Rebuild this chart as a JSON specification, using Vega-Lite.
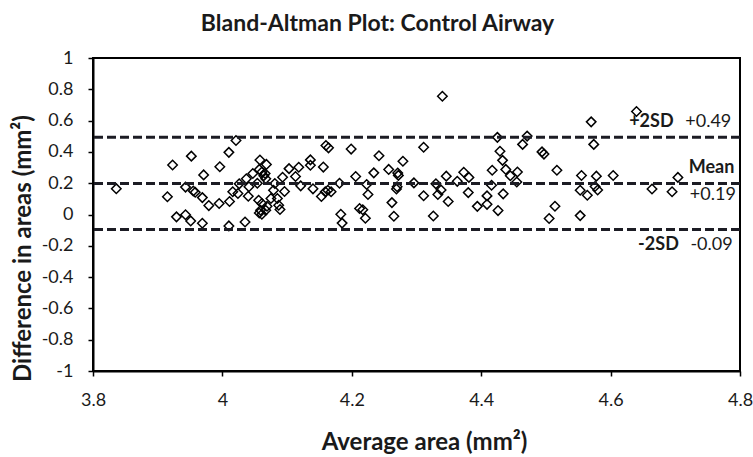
{
  "$schema": "https://vega.github.io/schema/vega-lite/v6.json",
  "autosize": "none",
  "width": 647,
  "height": 313,
  "padding": {"left": 93, "top": 58, "right": 13, "bottom": 86},
  "background": "white",
  "config": {
    "font": "Lato",
    "view": {"stroke": "#000", "strokeWidth": 2},
    "axis": {"grid": false, "domainColor": "#000", "domainWidth": 2, "tickColor": "#000", "tickWidth": 1.5, "tickSize": 5, "labelFont": "Lato", "labelFontSize": 18, "labelColor": "#1a1a1a", "labelOverlap": false, "titleFont": "Lato", "titleFontWeight": "bold", "titleColor": "#1a1a1a"},
    "axisY": {"labelOverlap": false},
    "axisQuantitative": {"labelOverlap": false}
  },
  "title": {"text": "Bland-Altman Plot: Control Airway", "font": "Lato", "fontSize": 23, "fontWeight": "bold", "color": "#1a1a1a", "anchor": "middle", "frame": "group", "dx": -39, "baseline": "middle", "offset": 2},
  "datasets": {
    "points": [
      {"avg": 3.836, "diff": 0.165}, {"avg": 3.915, "diff": 0.113}, {"avg": 3.923, "diff": 0.316}, {"avg": 3.929, "diff": -0.015},
      {"avg": 3.943, "diff": -0.002}, {"avg": 3.943, "diff": 0.175}, {"avg": 3.951, "diff": -0.041}, {"avg": 3.952, "diff": 0.373},
      {"avg": 3.955, "diff": 0.150}, {"avg": 3.958, "diff": 0.142}, {"avg": 3.969, "diff": 0.108}, {"avg": 3.971, "diff": 0.253},
      {"avg": 3.969, "diff": -0.056}, {"avg": 3.979, "diff": 0.057}, {"avg": 3.995, "diff": 0.070}, {"avg": 3.996, "diff": 0.305},
      {"avg": 4.010, "diff": -0.073}, {"avg": 4.010, "diff": 0.397}, {"avg": 4.021, "diff": 0.473}, {"avg": 4.011, "diff": 0.083},
      {"avg": 4.016, "diff": 0.145}, {"avg": 4.026, "diff": 0.196}, {"avg": 4.024, "diff": 0.134}, {"avg": 4.035, "diff": -0.048},
      {"avg": 4.040, "diff": 0.117}, {"avg": 4.037, "diff": 0.228}, {"avg": 4.041, "diff": 0.177},
      {"avg": 4.047, "diff": 0.262}, {"avg": 4.054, "diff": 0.200}, {"avg": 4.057, "diff": 0.288}, {"avg": 4.058, "diff": 0.348},
      {"avg": 4.061, "diff": 0.272}, {"avg": 4.066, "diff": 0.262}, {"avg": 4.068, "diff": 0.320}, {"avg": 4.064, "diff": 0.248},
      {"avg": 4.067, "diff": 0.228}, {"avg": 4.056, "diff": 0.091}, {"avg": 4.061, "diff": 0.070}, {"avg": 4.059, "diff": 0.027},
      {"avg": 4.061, "diff": 0.002}, {"avg": 4.067, "diff": 0.027}, {"avg": 4.069, "diff": 0.053}, {"avg": 4.075, "diff": 0.102},
      {"avg": 4.057, "diff": 0.010}, {"avg": 4.085, "diff": 0.102}, {"avg": 4.087, "diff": 0.059}, {"avg": 4.089, "diff": 0.032},
      {"avg": 4.081, "diff": 0.198}, {"avg": 4.079, "diff": 0.155}, {"avg": 4.093, "diff": 0.238}, {"avg": 4.096, "diff": 0.147},
      {"avg": 4.103, "diff": 0.293}, {"avg": 4.113, "diff": 0.243}, {"avg": 4.118, "diff": 0.302}, {"avg": 4.121, "diff": 0.183},
      {"avg": 4.136, "diff": 0.349}, {"avg": 4.136, "diff": 0.315}, {"avg": 4.140, "diff": 0.164}, {"avg": 4.153, "diff": 0.115},
      {"avg": 4.156, "diff": 0.303}, {"avg": 4.160, "diff": 0.441}, {"avg": 4.164, "diff": 0.426}, {"avg": 4.159, "diff": 0.145},
      {"avg": 4.163, "diff": 0.155}, {"avg": 4.168, "diff": 0.145}, {"avg": 4.181, "diff": 0.200}, {"avg": 4.183, "diff": 0.002},
      {"avg": 4.185, "diff": -0.055}, {"avg": 4.199, "diff": 0.418}, {"avg": 4.206, "diff": 0.243}, {"avg": 4.212, "diff": 0.038},
      {"avg": 4.217, "diff": 0.030}, {"avg": 4.221, "diff": -0.024}, {"avg": 4.223, "diff": 0.192}, {"avg": 4.225, "diff": 0.128},
      {"avg": 4.234, "diff": 0.266}, {"avg": 4.242, "diff": 0.375},
      {"avg": 4.257, "diff": 0.288}, {"avg": 4.271, "diff": 0.265}, {"avg": 4.272, "diff": 0.250}, {"avg": 4.279, "diff": 0.340},
      {"avg": 4.270, "diff": 0.177}, {"avg": 4.269, "diff": 0.163}, {"avg": 4.262, "diff": 0.076}, {"avg": 4.265, "diff": -0.011},
      {"avg": 4.296, "diff": 0.202}, {"avg": 4.311, "diff": 0.430}, {"avg": 4.311, "diff": 0.120}, {"avg": 4.326, "diff": -0.010},
      {"avg": 4.330, "diff": 0.196}, {"avg": 4.338, "diff": 0.157}, {"avg": 4.333, "diff": 0.128}, {"avg": 4.340, "diff": 0.756},
      {"avg": 4.346, "diff": 0.245}, {"avg": 4.349, "diff": 0.083}, {"avg": 4.363, "diff": 0.212}, {"avg": 4.373, "diff": 0.270},
      {"avg": 4.381, "diff": 0.237}, {"avg": 4.380, "diff": 0.140}, {"avg": 4.394, "diff": 0.052}, {"avg": 4.409, "diff": 0.065},
      {"avg": 4.409, "diff": 0.119}, {"avg": 4.417, "diff": 0.283}, {"avg": 4.416, "diff": 0.187}, {"avg": 4.425, "diff": 0.493},
      {"avg": 4.429, "diff": 0.404}, {"avg": 4.426, "diff": 0.025}, {"avg": 4.433, "diff": 0.346}, {"avg": 4.434, "diff": 0.132},
      {"avg": 4.438, "diff": 0.288}, {"avg": 4.445, "diff": 0.248}, {"avg": 4.456, "diff": 0.272}, {"avg": 4.455, "diff": 0.208},
      {"avg": 4.464, "diff": 0.448}, {"avg": 4.471, "diff": 0.501}, {"avg": 4.494, "diff": 0.400}, {"avg": 4.497, "diff": 0.386},
      {"avg": 4.505, "diff": -0.026}, {"avg": 4.514, "diff": 0.053}, {"avg": 4.517, "diff": 0.283}, {"avg": 4.553, "diff": -0.007},
      {"avg": 4.553, "diff": 0.155}, {"avg": 4.555, "diff": 0.249}, {"avg": 4.564, "diff": 0.123}, {"avg": 4.570, "diff": 0.592},
      {"avg": 4.574, "diff": 0.448}, {"avg": 4.576, "diff": 0.179}, {"avg": 4.580, "diff": 0.157}, {"avg": 4.578, "diff": 0.245},
      {"avg": 4.604, "diff": 0.249}, {"avg": 4.640, "diff": 0.658}, {"avg": 4.664, "diff": 0.163}, {"avg": 4.695, "diff": 0.145},
      {"avg": 4.704, "diff": 0.237}
    ],
    "lines": [
      {"level": "+2SD", "value": 0.493},
      {"level": "Mean", "value": 0.198},
      {"level": "-2SD", "value": -0.096}
    ],
    "boldLabels": [
      {"text": "+2SD", "avg": 4.663, "diff": 0.592},
      {"text": "Mean", "avg": 4.756, "diff": 0.294},
      {"text": "-2SD", "avg": 4.674, "diff": -0.196}
    ],
    "valueLabels": [
      {"text": "+0.49", "avg": 4.751, "diff": 0.592},
      {"text": "+0.19", "avg": 4.758, "diff": 0.123},
      {"text": "-0.09", "avg": 4.756, "diff": -0.196}
    ]
  },
  "layer": [
    {
      "data": {"name": "points"},
      "mark": {"type": "point", "shape": "diamond", "filled": false, "stroke": "#000", "strokeWidth": 1.5, "size": 90, "opacity": 1},
      "encoding": {
        "x": {"field": "avg", "type": "quantitative", "scale": {"domain": [3.8, 4.8], "nice": false, "zero": false},
          "axis": {"values": [3.8, 4, 4.2, 4.4, 4.6, 4.8], "labelExpr": "datum.value + ''", "labelOverlap": false, "title": "Average area (mm²)", "titleFontSize": 24, "titleX": 331, "titleY": 71, "titleBaseline": "middle", "titleAlign": "center", "labelPadding": 15, "labelFlush": false}},
        "y": {"field": "diff", "type": "quantitative", "scale": {"domain": [-1, 1], "nice": false, "zero": false},
          "axis": {"values": [-1, -0.8, -0.6, -0.4, -0.2, 0, 0.2, 0.4, 0.6, 0.8, 1], "labelExpr": "datum.value + ''", "labelOverlap": false, "labelBound": false, "title": "Difference in areas (mm²)", "titleFontSize": 24, "titleX": -70, "titleY": 190, "titleBaseline": "middle", "titleAlign": "center", "labelPadding": 15, "labelFlush": false}}
      }
    },
    {
      "data": {"name": "lines"},
      "mark": {"type": "rule", "stroke": "#1c1c24", "strokeWidth": 3, "strokeDash": [9, 4]},
      "encoding": {
        "y": {"field": "value", "type": "quantitative",
          "axis": {"values": [-1, -0.8, -0.6, -0.4, -0.2, 0, 0.2, 0.4, 0.6, 0.8, 1], "labelExpr": "datum.value + ''", "labelOverlap": false, "labelBound": false, "title": "Difference in areas (mm²)", "titleFontSize": 24, "titleX": -70, "titleY": 190, "titleBaseline": "middle", "titleAlign": "center", "labelPadding": 15, "labelFlush": false}}
      }
    },
    {
      "data": {"name": "boldLabels"},
      "mark": {"type": "text", "font": "Lato", "fontSize": 18, "fontWeight": "bold", "color": "#1a1a1a", "align": "center", "baseline": "middle"},
      "encoding": {
        "x": {"field": "avg", "type": "quantitative",
          "axis": {"values": [3.8, 4, 4.2, 4.4, 4.6, 4.8], "labelExpr": "datum.value + ''", "labelOverlap": false, "title": "Average area (mm²)", "titleFontSize": 24, "titleX": 331, "titleY": 71, "titleBaseline": "middle", "titleAlign": "center", "labelPadding": 15, "labelFlush": false}},
        "y": {"field": "diff", "type": "quantitative",
          "axis": {"values": [-1, -0.8, -0.6, -0.4, -0.2, 0, 0.2, 0.4, 0.6, 0.8, 1], "labelExpr": "datum.value + ''", "labelOverlap": false, "labelBound": false, "title": "Difference in areas (mm²)", "titleFontSize": 24, "titleX": -70, "titleY": 190, "titleBaseline": "middle", "titleAlign": "center", "labelPadding": 15, "labelFlush": false}},
        "text": {"field": "text"}
      }
    },
    {
      "data": {"name": "valueLabels"},
      "mark": {"type": "text", "font": "Lato", "fontSize": 18, "color": "#1a1a1a", "align": "center", "baseline": "middle"},
      "encoding": {
        "x": {"field": "avg", "type": "quantitative",
          "axis": {"values": [3.8, 4, 4.2, 4.4, 4.6, 4.8], "labelExpr": "datum.value + ''", "labelOverlap": false, "title": "Average area (mm²)", "titleFontSize": 24, "titleX": 331, "titleY": 71, "titleBaseline": "middle", "titleAlign": "center", "labelPadding": 15, "labelFlush": false}},
        "y": {"field": "diff", "type": "quantitative",
          "axis": {"values": [-1, -0.8, -0.6, -0.4, -0.2, 0, 0.2, 0.4, 0.6, 0.8, 1], "labelExpr": "datum.value + ''", "labelOverlap": false, "labelBound": false, "title": "Difference in areas (mm²)", "titleFontSize": 24, "titleX": -70, "titleY": 190, "titleBaseline": "middle", "titleAlign": "center", "labelPadding": 15, "labelFlush": false}},
        "text": {"field": "text"}
      }
    }
  ]
}
